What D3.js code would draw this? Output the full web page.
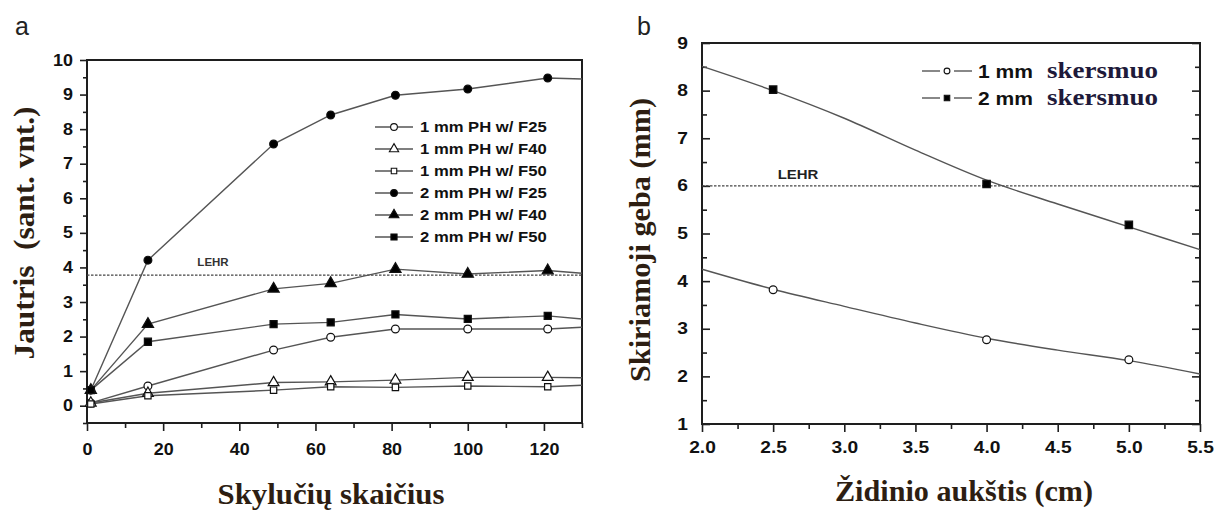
<!DOCTYPE html>
<html><head><meta charset="utf-8">
<script src="https://cdn.jsdelivr.net/npm/d3@7"></script>
<style>
body{margin:0;background:#fff;}
svg{display:block;}
text{white-space:pre;}
</style></head>
<body>
<svg id="c" width="1214" height="511"></svg>
<script>
// ---------- Panel a data ----------
const holes = [1, 16, 49, 64, 81, 100, 121];
const holesEdge = 130;
const legendA = ["1 mm PH w/ F25","1 mm PH w/ F40","1 mm PH w/ F50","2 mm PH w/ F25","2 mm PH w/ F40","2 mm PH w/ F50"];
const s1F25 = [0.08, 0.57, 1.61, 1.98, 2.22, 2.22, 2.22];
const s1F40 = [0.08, 0.36, 0.67, 0.69, 0.74, 0.82, 0.82];
const s1F50 = [0.05, 0.29, 0.45, 0.55, 0.53, 0.57, 0.55];
const s2F25 = [0.45, 4.21, 7.57, 8.41, 8.98, 9.16, 9.48];
const s2F40 = [0.45, 2.36, 3.38, 3.54, 3.95, 3.81, 3.91];
const s2F50 = [0.45, 1.85, 2.36, 2.41, 2.64, 2.51, 2.60];
const edgeA = [2.27, 0.81, 0.59, 9.45, 3.83, 2.51];   // line values at the right frame
const lehrA = 3.78;
const xTicksA = [0, 20, 40, 60, 80, 100, 120];
const yTicksA = [0, 1, 2, 3, 4, 5, 6, 7, 8, 9, 10];

// ---------- Panel b data ----------
const focal = [2.5, 4.0, 5.0];
const res1mm = [3.82, 2.77, 2.35];
const res2mm = [8.02, 6.04, 5.18];
const fitX = [2.0, 2.5, 3.0, 3.5, 4.0, 4.5, 5.0, 5.5];
const fit1mm = [4.25, 3.83, 3.47, 3.12, 2.80, 2.55, 2.33, 2.05];
const fit2mm = [8.51, 8.00, 7.42, 6.75, 6.12, 5.62, 5.14, 4.66];
const legendB = ["1 mm", "2 mm"];
const legendBWord = "skersmuo";
const lehrB = 6;
const xTicksB = [2.0, 2.5, 3.0, 3.5, 4.0, 4.5, 5.0, 5.5];
const yTicksB = [1, 2, 3, 4, 5, 6, 7, 8, 9];

const svg = d3.select("#c");
const SANS = "'Liberation Sans', Arial, sans-serif";
const SERIF = "'Liberation Serif', 'Times New Roman', serif";
const TITLE_COL = "#2d1e12";
const LINE_COL = "#555";
const AX_COL = "#1e1e1e";

function symbolPath(kind, size){
  if (kind === "circle") return d3.symbol(d3.symbolCircle, size)();
  if (kind === "triangle") return d3.symbol(d3.symbolTriangle, size)();
  return d3.symbol(d3.symbolSquare, size)();
}
function styleTicks(g){
  g.selectAll("text").attr("font-family", SANS).attr("font-weight","bold").attr("font-size", 16).attr("fill","#111");
  g.select(".domain").remove();
  g.selectAll("line").attr("stroke", AX_COL).attr("stroke-width", 1.6);
}

// ================= Panel a =================
const xa = d3.scaleLinear().domain([0, 130]).range([87, 582]);
const ya = d3.scaleLinear().domain([-0.5, 10]).range([423, 60]);

svg.append("clipPath").attr("id","clipA").append("rect")
  .attr("x", xa(0)).attr("y", ya(10)).attr("width", xa(130)-xa(0)).attr("height", ya(-0.5)-ya(10));

const gA = svg.append("g");
gA.append("g").attr("transform", `translate(0,${ya(-0.5)})`)
  .call(d3.axisBottom(xa).tickValues(d3.range(10, 131, 20)).tickSize(5).tickFormat(""))
  .call(g => styleTicks(g));
gA.append("g").attr("transform", `translate(${xa(0)},0)`)
  .call(d3.axisLeft(ya).tickValues(d3.range(-0.5, 10, 1)).tickSize(4).tickFormat(""))
  .call(g => styleTicks(g));
gA.append("g").attr("transform", `translate(0,${ya(-0.5)})`)
  .call(d3.axisBottom(xa).tickValues(xTicksA).tickSize(8).tickPadding(13).tickFormat(d3.format("d")))
  .call(g => { styleTicks(g); g.selectAll("text").attr("transform","scale(1.12,1)"); });
gA.append("g").attr("transform", `translate(${xa(0)},0)`)
  .call(d3.axisLeft(ya).tickValues(yTicksA).tickSize(7).tickPadding(7).tickFormat(d3.format("d")))
  .call(g => { styleTicks(g); g.selectAll("text").attr("x", -14/1.12).attr("transform","scale(1.12,1)"); });

svg.append("rect").attr("x", xa(0)).attr("y", ya(10)).attr("width", xa(130)-xa(0)).attr("height", ya(-0.5)-ya(10))
  .attr("fill","none").attr("stroke", AX_COL).attr("stroke-width", 2);

svg.append("line").attr("x1", xa(0)).attr("x2", xa(130)).attr("y1", ya(lehrA)).attr("y2", ya(lehrA))
  .attr("stroke", "#444").attr("stroke-width", 1.2).attr("stroke-dasharray", "2.5,1.5");
svg.append("text").attr("x", 0).attr("y", 0).attr("text-anchor","middle")
  .attr("font-family", SANS).attr("font-weight","bold").attr("font-size", 10).attr("fill","#333")
  .attr("transform", `translate(213,${ya(lehrA) - 9}) scale(1.15,1)`).text("LEHR");

const seriesA = [
  {name: legendA[0], vals: s1F25, edge: edgeA[0], shape: "circle", fill: "#fff", size: 48},
  {name: legendA[1], vals: s1F40, edge: edgeA[1], shape: "triangle", fill: "#fff", size: 50},
  {name: legendA[2], vals: s1F50, edge: edgeA[2], shape: "square", fill: "#fff", size: 40},
  {name: legendA[3], vals: s2F25, edge: edgeA[3], shape: "circle", fill: "#000", size: 48},
  {name: legendA[4], vals: s2F40, edge: edgeA[4], shape: "triangle", fill: "#000", size: 55},
  {name: legendA[5], vals: s2F50, edge: edgeA[5], shape: "square", fill: "#000", size: 50},
];
const lineA = d3.line().x(d => xa(d[0])).y(d => ya(d[1]));
const plotA = svg.append("g").attr("clip-path","url(#clipA)");
seriesA.forEach(s => {
  const pts = holes.map((h,i) => [h, s.vals[i]]).concat([[holesEdge, s.edge]]);
  plotA.append("path").attr("d", lineA(pts)).attr("fill","none").attr("stroke", LINE_COL).attr("stroke-width", 1.4);
});
seriesA.forEach(s => {
  svg.append("g").selectAll("path").data(holes.map((h,i) => [h, s.vals[i]])).join("path")
    .attr("transform", d => `translate(${xa(d[0])},${ya(d[1])})`)
    .attr("d", symbolPath(s.shape, s.size))
    .attr("fill", s.fill).attr("stroke", "#111").attr("stroke-width", 1.2);
});

const legA = svg.append("g");
seriesA.forEach((s, i) => {
  const cy = 127 + i * 22;
  legA.append("line").attr("x1", 375).attr("x2", 413).attr("y1", cy).attr("y2", cy).attr("stroke", LINE_COL).attr("stroke-width", 1.4);
  legA.append("path").attr("transform", `translate(394,${cy})`).attr("d", symbolPath(s.shape, s.size*0.75))
    .attr("fill", s.fill).attr("stroke","#111").attr("stroke-width", 1.1);
  legA.append("text").attr("x", 0).attr("y", 0).attr("font-family", SANS).attr("font-weight","bold").attr("font-size", 14)
    .attr("fill","#111").attr("transform", `translate(420,${cy+5}) scale(1.19,1)`).text(s.name);
});

svg.append("text").attr("x", 15).attr("y", 35).attr("font-family", SANS).attr("font-size", 25).attr("fill","#222").text("a");
svg.append("text").attr("font-family", SERIF).attr("font-weight","bold").attr("font-size", 29).attr("fill", TITLE_COL)
  .attr("text-anchor","middle").attr("transform", `translate(34,233) rotate(-90)`)
  .attr("textLength", 253).attr("lengthAdjust","spacingAndGlyphs").text("Jautris  (sant. vnt.)");
svg.append("text").attr("font-family", SERIF).attr("font-weight","bold").attr("font-size", 29).attr("fill", TITLE_COL)
  .attr("text-anchor","middle").attr("x", 331).attr("y", 504)
  .attr("textLength", 227).attr("lengthAdjust","spacingAndGlyphs").text("Skylučių skaičius");

// ================= Panel b =================
const xb = d3.scaleLinear().domain([2, 5.5]).range([702, 1200]);
const yb = d3.scaleLinear().domain([1, 9]).range([424, 43]);

const gB = svg.append("g");
gB.append("g").attr("transform", `translate(0,${yb(1)})`)
  .call(d3.axisBottom(xb).tickValues(d3.range(2.25, 5.5, 0.5)).tickSize(5).tickFormat(""))
  .call(g => styleTicks(g));
gB.append("g").attr("transform", `translate(0,${yb(1)})`)
  .call(d3.axisBottom(xb).tickValues(xTicksB).tickSize(8).tickPadding(10).tickFormat(d3.format(".1f")))
  .call(g => { styleTicks(g); g.selectAll("text").attr("transform","scale(1.2,1)"); });
gB.append("g").attr("transform", `translate(${xb(2)},0)`)
  .call(d3.axisRight(yb).tickValues(d3.range(1.5, 9, 1)).tickSize(5).tickFormat(""))
  .call(g => styleTicks(g));
gB.append("g").attr("transform", `translate(${xb(2)},0)`)
  .call(d3.axisRight(yb).tickValues(yTicksB).tickSize(8).tickFormat(d3.format("d")))
  .call(g => { styleTicks(g); g.selectAll("text").attr("text-anchor","end").attr("x", -14/1.2).attr("transform","scale(1.2,1)"); });
gB.append("g").attr("transform", `translate(${xb(5.5)},0)`)
  .call(d3.axisLeft(yb).tickValues(d3.range(1.5, 9, 1)).tickSize(5).tickFormat(""))
  .call(g => styleTicks(g));
gB.append("g").attr("transform", `translate(${xb(5.5)},0)`)
  .call(d3.axisLeft(yb).tickValues(yTicksB).tickSize(8).tickFormat(""))
  .call(g => styleTicks(g));

svg.append("rect").attr("x", xb(2)).attr("y", yb(9)).attr("width", xb(5.5)-xb(2)).attr("height", yb(1)-yb(9))
  .attr("fill","none").attr("stroke", AX_COL).attr("stroke-width", 2);

svg.append("line").attr("x1", xb(2)).attr("x2", xb(5.5)).attr("y1", yb(lehrB)).attr("y2", yb(lehrB))
  .attr("stroke", "#444").attr("stroke-width", 1.2).attr("stroke-dasharray", "2.5,1.5");
svg.append("text").attr("x", 0).attr("y", 0).attr("text-anchor","middle")
  .attr("font-family", SANS).attr("font-weight","bold").attr("font-size", 13).attr("fill","#222")
  .attr("transform", `translate(798,${yb(lehrB) - 7}) scale(1.15,1)`).text("LEHR");

const lineB = d3.line().x(d => xb(d[0])).y(d => yb(d[1])).curve(d3.curveMonotoneX);
[fit1mm, fit2mm].forEach(f => {
  svg.append("path").attr("d", lineB(fitX.map((x,i) => [x, f[i]]))).attr("fill","none")
    .attr("stroke", LINE_COL).attr("stroke-width", 1.4);
});
const seriesB = [
  {vals: res1mm, shape: "circle", fill: "#fff", size: 48},
  {vals: res2mm, shape: "square", fill: "#000", size: 55},
];
seriesB.forEach(s => {
  svg.append("g").selectAll("path").data(focal.map((x,i) => [x, s.vals[i]])).join("path")
    .attr("transform", d => `translate(${xb(d[0])},${yb(d[1])})`)
    .attr("d", symbolPath(s.shape, s.size))
    .attr("fill", s.fill).attr("stroke","#111").attr("stroke-width", 1.2);
});

seriesB.forEach((s, i) => {
  const cy = 71 + i * 27;
  svg.append("line").attr("x1", 922).attr("x2", 940).attr("y1", cy).attr("y2", cy).attr("stroke", LINE_COL).attr("stroke-width", 1.4);
  svg.append("line").attr("x1", 954).attr("x2", 972).attr("y1", cy).attr("y2", cy).attr("stroke", LINE_COL).attr("stroke-width", 1.4);
  svg.append("path").attr("transform", `translate(947,${cy})`).attr("d", symbolPath(s.shape, s.size*0.55))
    .attr("fill", s.fill).attr("stroke","#111").attr("stroke-width", 1.1);
  svg.append("text").attr("font-family", SANS).attr("font-weight","bold").attr("font-size", 18).attr("fill","#111")
    .attr("transform", `translate(978,${cy+7}) scale(1.17,1)`).text(legendB[i]);
  svg.append("text").attr("x", 1047).attr("y", cy+7).attr("font-family", SERIF).attr("font-weight","bold").attr("font-size", 23)
    .attr("fill", "#1e1a3a").attr("textLength", 111).attr("lengthAdjust","spacingAndGlyphs").text(legendBWord);
});

svg.append("text").attr("x", 637).attr("y", 35).attr("font-family", SANS).attr("font-size", 25).attr("fill","#222").text("b");
svg.append("text").attr("font-family", SERIF).attr("font-weight","bold").attr("font-size", 29).attr("fill", TITLE_COL)
  .attr("text-anchor","middle").attr("transform", `translate(650,240) rotate(-90)`)
  .attr("textLength", 284).attr("lengthAdjust","spacingAndGlyphs").text("Skiriamoji geba (mm)");
svg.append("text").attr("font-family", SERIF).attr("font-weight","bold").attr("font-size", 29).attr("fill", TITLE_COL)
  .attr("text-anchor","middle").attr("x", 964).attr("y", 501)
  .attr("textLength", 258).attr("lengthAdjust","spacingAndGlyphs").text("Židinio aukštis (cm)");
</script>
</body></html>
